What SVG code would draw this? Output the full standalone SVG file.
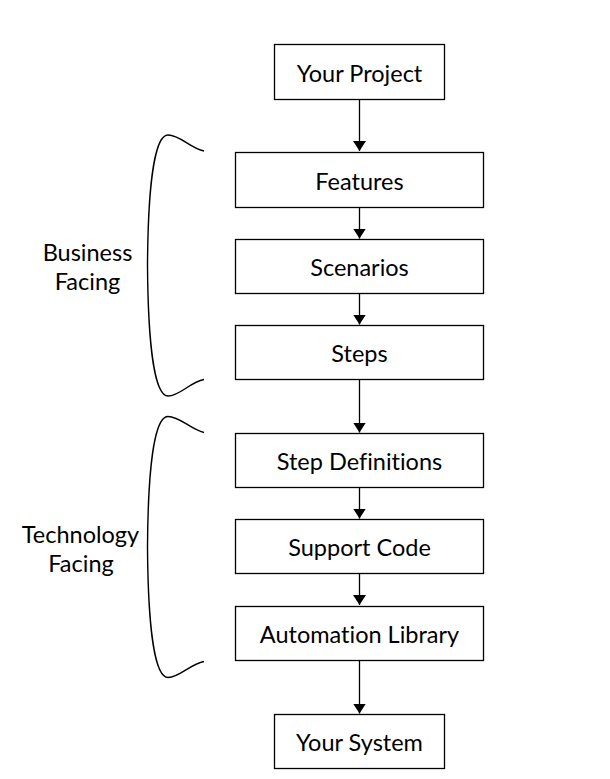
<svg xmlns="http://www.w3.org/2000/svg" width="610" height="779" viewBox="0 0 610 779">
<style>
.box{fill:#fff;stroke:#000;stroke-width:1.3}
.t{font-family:Lato,"Liberation Sans",sans-serif;font-size:23.5px;fill:#000;text-anchor:middle;font-variant-ligatures:none}
.c{stroke:#000;stroke-width:1.3;fill:none}
.br{stroke:#000;stroke-width:1.4;fill:none}
</style>
<defs>
<marker id="ah" viewBox="0 0 10 13" refX="10" refY="6.5" markerWidth="10" markerHeight="13" markerUnits="userSpaceOnUse" orient="auto">
<path d="M0,0 L10,6.5 L0,13 Z" fill="#000"/>
</marker>
</defs>
<rect width="610" height="779" fill="#fff"/>
<g id="connectors">
<line class="c" x1="359.5" y1="99.5" x2="359.5" y2="151" marker-end="url(#ah)"/>
<line class="c" x1="359.5" y1="207.5" x2="359.5" y2="238.5" marker-end="url(#ah)"/>
<line class="c" x1="359.5" y1="293.5" x2="359.5" y2="324.5" marker-end="url(#ah)"/>
<line class="c" x1="359.5" y1="379.5" x2="359.5" y2="432.5" marker-end="url(#ah)"/>
<line class="c" x1="359.5" y1="487.5" x2="359.5" y2="518.5" marker-end="url(#ah)"/>
<line class="c" x1="359.5" y1="573.5" x2="359.5" y2="605" marker-end="url(#ah)"/>
<line class="c" x1="359.5" y1="660.5" x2="359.5" y2="713.5" marker-end="url(#ah)"/>
</g>
<g id="braces">
<path id="business-brace" class="br" d="M204,151 C190,148 180,135 168,135 C154,135 148,190 147.5,265 C148,340 154,396 168,396 C180,396 190,382 204,379.5"/>
<path id="technology-brace" class="br" d="M204,432.5 C190,429 180,416.5 168,416.5 C154,416.5 148,470 147.5,547 C148,622 154,677.5 168,677.5 C180,677.5 190,664 204,661.5"/>
</g>
<g id="label-business">
<text class="t" x="87.5" y="260.5">Business</text>
<text class="t" x="87.5" y="289.5">Facing</text>
</g>
<g id="label-technology">
<text class="t" x="80.5" y="542.5">Technology</text>
<text class="t" x="81" y="571.5">Facing</text>
</g>
<g id="your-project"><rect class="box" x="274.5" y="44.5" width="170" height="55"/><text class="t" x="359.5" y="81.5">Your Project</text></g>
<g id="features"><rect class="box" x="235.5" y="152.5" width="248" height="55"/><text class="t" x="359.5" y="189.5">Features</text></g>
<g id="scenarios"><rect class="box" x="235.5" y="239.5" width="248" height="54"/><text class="t" x="359.5" y="276">Scenarios</text></g>
<g id="steps"><rect class="box" x="235.5" y="325.5" width="248" height="54"/><text class="t" x="359.5" y="362">Steps</text></g>
<g id="step-definitions"><rect class="box" x="235.5" y="433.5" width="248" height="54"/><text class="t" x="359.5" y="470">Step Definitions</text></g>
<g id="support-code"><rect class="box" x="235.5" y="519.5" width="248" height="54"/><text class="t" x="359.5" y="556">Support Code</text></g>
<g id="automation-library"><rect class="box" x="235.5" y="606.5" width="248" height="54"/><text class="t" x="359.5" y="643">Automation Library</text></g>
<g id="your-system"><rect class="box" x="274.5" y="714.5" width="170" height="54"/><text class="t" x="359.5" y="751">Your System</text></g>
</svg>
